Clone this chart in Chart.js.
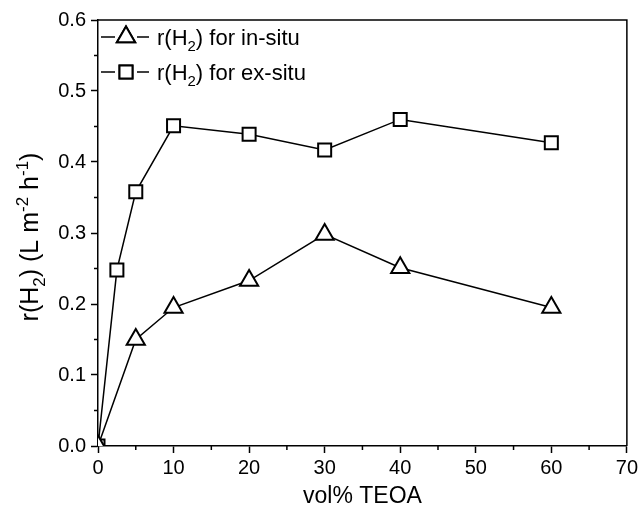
<!DOCTYPE html>
<html>
<head>
<meta charset="utf-8">
<script src="https://cdn.jsdelivr.net/npm/chart.js@4.4.0/dist/chart.umd.min.js"></script>
<style>
body { margin: 0; background: #fff; }
canvas { display: block; }
</style>
</head>
<body>
<canvas id="rh2chart" width="641" height="517"></canvas>
<script>
// values
var teoaInSitu = [0, 5, 10, 20, 30, 40, 60];
var rateInSitu = [0, 0.150, 0.195, 0.233, 0.298, 0.251, 0.195];

var teoaExSitu = [0, 2.5, 5, 10, 20, 30, 40, 60];
var rateExSitu = [0, 0.248, 0.358, 0.451, 0.439, 0.417, 0.460, 0.427];

var xTicks = [0, 10, 20, 30, 40, 50, 60, 70];
var yTicks = [0.0, 0.1, 0.2, 0.3, 0.4, 0.5, 0.6];

var seriesLabels = ['r(H2) for in-situ', 'r(H2) for ex-situ'];
var xTitle = 'vol% TEOA';

var FONT = '"Liberation Sans", Arial, sans-serif';

function pairs(xs, ys) {
    return xs.map(function (x, i) { return { x: x, y: ys[i] }; });
}

// draws text made of [text, mode] parts, mode 0 normal, 1 subscript, -1 superscript
function richText(ctx, parts, x, y, size, align) {
    var total = 0;
    parts.forEach(function (p) {
        ctx.font = (p[1] ? size * 0.68 : size) + 'px ' + FONT;
        total += ctx.measureText(p[0]).width;
    });
    var cx = align === 'center' ? x - total / 2 : x;
    ctx.textAlign = 'left';
    ctx.textBaseline = 'alphabetic';
    parts.forEach(function (p) {
        ctx.font = (p[1] ? size * 0.68 : size) + 'px ' + FONT;
        var dy = p[1] === 1 ? size * 0.28 : (p[1] === -1 ? -size * 0.42 : 0);
        ctx.fillText(p[0], cx, y + dy);
        cx += ctx.measureText(p[0]).width;
    });
}

function h2Parts(str) {
    var bits = str.split('H2');
    return [[bits[0] + 'H', 0], ['2', 1], [bits[1], 0]];
}

function majorTicks(list) {
    return function (scale) {
        scale.ticks = list.map(function (v) { return { value: v }; });
    };
}

// box, minor ticks, titles and the in-plot legend
var originLook = {
    id: 'originLook',
    afterDraw: function (chart) {
        var ctx = chart.ctx;
        var a = chart.chartArea;
        var xs = chart.scales.x, ys = chart.scales.y;
        ctx.save();
        ctx.strokeStyle = '#000';
        ctx.fillStyle = '#000';
        ctx.lineWidth = 1.5;

        // top and right frame
        ctx.beginPath();
        ctx.moveTo(a.left, a.top);
        ctx.lineTo(a.right, a.top);
        ctx.lineTo(a.right, a.bottom);
        ctx.stroke();

        // minor ticks half way between the majors
        ctx.beginPath();
        for (var i = 0; i < xTicks.length - 1; i++) {
            var px = xs.getPixelForValue((xTicks[i] + xTicks[i + 1]) / 2);
            ctx.moveTo(px, a.bottom);
            ctx.lineTo(px, a.bottom + 4);
        }
        for (var j = 0; j < yTicks.length - 1; j++) {
            var py = ys.getPixelForValue((yTicks[j] + yTicks[j + 1]) / 2);
            ctx.moveTo(a.left, py);
            ctx.lineTo(a.left - 4, py);
        }
        ctx.stroke();

        // axis titles
        ctx.font = '23px ' + FONT;
        ctx.textAlign = 'center';
        ctx.textBaseline = 'alphabetic';
        ctx.fillText(xTitle, (a.left + a.right) / 2, 503);

        ctx.save();
        ctx.translate(38, (a.top + a.bottom) / 2 + 4);
        ctx.rotate(-Math.PI / 2);
        richText(ctx, [['r(H', 0], ['2', 1], [') (L m', 0], ['-2', -1], [' h', 0], ['-1', -1], [')', 0]], 0, 0, 25, 'center');
        ctx.restore();

        // legend: line - symbol - line, then the label
        chart.data.datasets.forEach(function (ds, k) {
            var cy = a.top + 17 + k * 35;
            ctx.lineWidth = 1.5;
            ctx.beginPath();
            ctx.moveTo(a.left + 3, cy);
            ctx.lineTo(a.left + 17, cy);
            ctx.moveTo(a.left + 39, cy);
            ctx.lineTo(a.left + 51, cy);
            ctx.stroke();
            ctx.lineWidth = 2;
            ctx.fillStyle = '#fff';
            Chart.helpers.drawPoint(ctx, {
                pointStyle: ds.pointStyle,
                radius: ds.pointRadius,
                borderWidth: 2
            }, a.left + 28, cy);
            ctx.fill();
            ctx.stroke();
            ctx.fillStyle = '#000';
            richText(ctx, h2Parts(ds.label), a.left + 59, cy + 8, 22, 'left');
        });
        ctx.restore();
    }
};

new Chart(document.getElementById('rh2chart'), {
    type: 'line',
    data: {
        datasets: [
            {
                label: seriesLabels[0],
                data: pairs(teoaInSitu, rateInSitu),
                borderColor: '#000',
                borderWidth: 1.5,
                backgroundColor: '#fff',
                pointStyle: 'triangle',
                pointRadius: 10.5,
                pointBorderWidth: 2,
                pointBackgroundColor: '#fff',
                pointBorderColor: '#000',
                tension: 0
            },
            {
                label: seriesLabels[1],
                data: pairs(teoaExSitu, rateExSitu),
                borderColor: '#000',
                borderWidth: 1.5,
                backgroundColor: '#fff',
                pointStyle: 'rect',
                pointRadius: 9.2,
                pointBorderWidth: 2,
                pointBackgroundColor: '#fff',
                pointBorderColor: '#000',
                tension: 0
            }
        ]
    },
    options: {
        responsive: false,
        animation: false,
        layout: { padding: { top: 20, right: 12, left: 0, bottom: 0 } },
        plugins: {
            legend: { display: false },
            tooltip: { enabled: false }
        },
        scales: {
            x: {
                type: 'linear',
                min: 0,
                max: 70,
                afterBuildTicks: majorTicks(xTicks),
                afterFit: function (scale) { scale.height = 71; },
                grid: { drawOnChartArea: false, tickLength: 7, tickWidth: 1.5, tickColor: '#000' },
                border: { color: '#000', width: 1.5 },
                ticks: {
                    color: '#000',
                    padding: 3,
                    maxRotation: 0,
                    font: { family: FONT, size: 20 },
                    callback: function (v) { return v; }
                }
            },
            y: {
                min: 0,
                max: 0.6,
                afterBuildTicks: majorTicks(yTicks),
                afterFit: function (scale) { scale.width = 98; },
                grid: { drawOnChartArea: false, tickLength: 7, tickWidth: 1.5, tickColor: '#000' },
                border: { color: '#000', width: 1.5 },
                ticks: {
                    color: '#000',
                    padding: 5,
                    font: { family: FONT, size: 20 },
                    callback: function (v) { return v.toFixed(1); }
                }
            }
        }
    },
    plugins: [originLook]
});
</script>
</body>
</html>
